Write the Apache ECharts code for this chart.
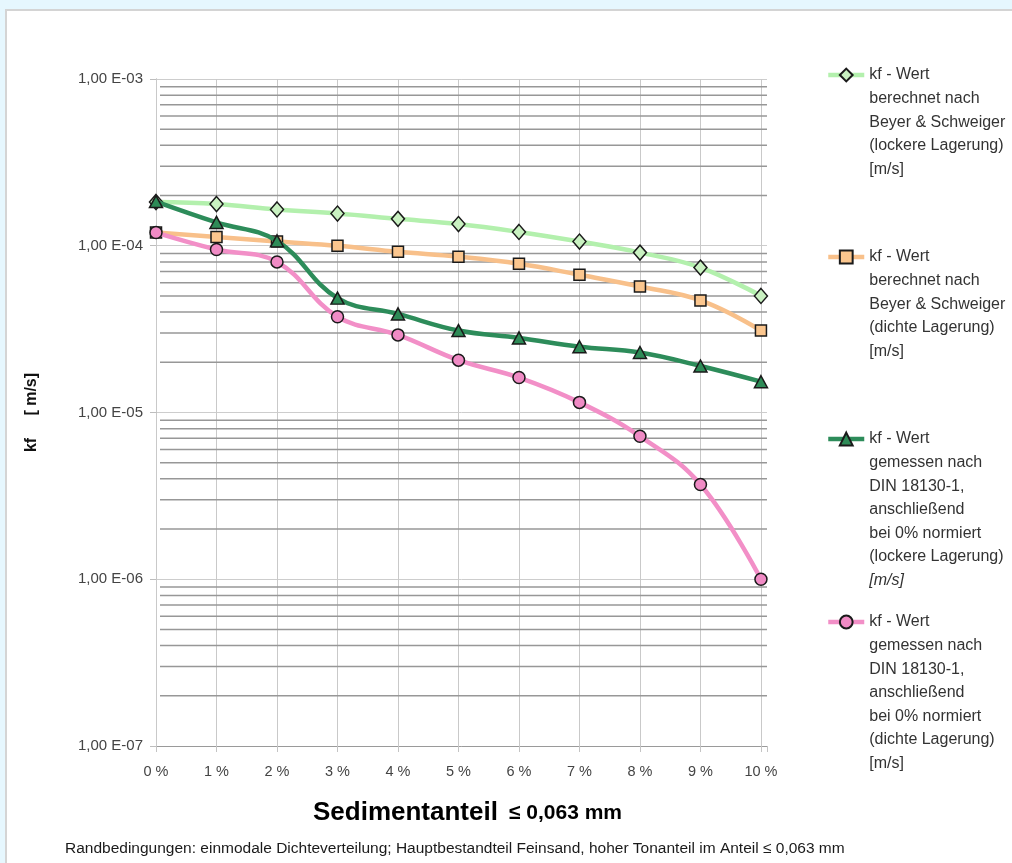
<!DOCTYPE html>
<html>
<head>
<meta charset="utf-8">
<script src="https://cdn.jsdelivr.net/npm/echarts@6/dist/echarts.min.js"></script>
<style>
  html, body { margin: 0; padding: 0; width: 1012px; height: 863px; overflow: hidden; background: #e6f7fe; }
  #frame { position: absolute; left: 5px; top: 9px; right: -4px; bottom: -4px; background: #ffffff; border: 2px solid #d4d4d4; }
  #chart { position: absolute; left: 0; top: 0; width: 1012px; height: 863px; }
</style>
</head>
<body>
<div id="frame"></div>
<div id="chart"></div>
<script>
// Fine fraction (<= 0,063 mm) in percent
const percents = [0, 1, 2, 3, 4, 5, 6, 7, 8, 9, 10];

// kf values [m/s]
const kfBerechnetLocker = [1.83e-4, 1.78e-4, 1.65e-4, 1.56e-4, 1.45e-4, 1.35e-4, 1.21e-4, 1.06e-4, 9.1e-5, 7.4e-5, 5.0e-5];
const kfBerechnetDicht  = [1.2e-4, 1.13e-4, 1.06e-4, 1.0e-4, 9.2e-5, 8.6e-5, 7.8e-5, 6.7e-5, 5.7e-5, 4.7e-5, 3.1e-5];
const kfGemessenLocker  = [1.84e-4, 1.38e-4, 1.07e-4, 4.85e-5, 3.9e-5, 3.1e-5, 2.8e-5, 2.48e-5, 2.29e-5, 1.9e-5, 1.53e-5];
const kfGemessenDicht   = [1.2e-4, 9.5e-5, 8.0e-5, 3.75e-5, 2.92e-5, 2.06e-5, 1.62e-5, 1.15e-5, 7.2e-6, 3.7e-6, 1.0e-6];

// Axis ticks
const yTickValues = [1e-7, 1e-6, 1e-5, 1e-4, 1e-3];
const yTickLabels = ['1,00 E-07', '1,00 E-06', '1,00 E-05', '1,00 E-04', '1,00 E-03'];
const xTickLabels = ['0 %', '1 %', '2 %', '3 %', '4 %', '5 %', '6 %', '7 %', '8 %', '9 %', '10 %'];

// Legend texts
const legendLines = [
  ['kf - Wert', 'berechnet nach', 'Beyer & Schweiger', '(lockere Lagerung)', '[m/s]'],
  ['kf - Wert', 'berechnet nach', 'Beyer & Schweiger', '(dichte Lagerung)', '[m/s]'],
  ['kf - Wert', 'gemessen nach', 'DIN 18130-1,', 'anschließend', 'bei 0% normiert', '(lockere Lagerung)', '[m/s]'],
  ['kf - Wert', 'gemessen nach', 'DIN 18130-1,', 'anschließend', 'bei 0% normiert', '(dichte Lagerung)', '[m/s]']
];
const italicUnit = [false, false, true, false];

const xTitleMain = 'Sedimentanteil';
const xTitleUnit = '≤ 0,063 mm';
const yTitle = 'kf     [ m/s]';
const footnote = 'Randbedingungen: einmodale Dichteverteilung; Hauptbestandteil Feinsand, hoher Tonanteil im Anteil ≤ 0,063 mm';

// ---- styling ----
const FONT = 'Liberation Sans, Arial, sans-serif';
const styles = [
  { values: kfBerechnetLocker, symbol: 'diamond',  size: [13, 15], line: '#b3f0ad', fill: '#c9f1c1' },
  { values: kfBerechnetDicht,  symbol: 'rect',     size: 11,       line: '#f8c08a', fill: '#fbc68e' },
  { values: kfGemessenLocker,  symbol: 'triangle', size: [13, 12], line: '#2d8c5a', fill: '#2e8b57' },
  { values: kfGemessenDicht,   symbol: 'circle',   size: 12,       line: '#f28fc7', fill: '#f08bc5' }
];
const seriesNames = legendLines.map(l => l.join('\n'));

// minor horizontal grid lines (2..9 within each decade)
const minorY = [];
for (let e = -7; e < -3; e++) {
  for (let m = 2; m <= 9; m++) minorY.push(m * Math.pow(10, e));
}

const series = styles.map((s, i) => ({
  name: seriesNames[i],
  type: 'line',
  data: percents.map((p, k) => [p, s.values[k]]),
  smooth: 0.4,
  symbol: s.symbol,
  symbolSize: s.size,
  showAllSymbol: true,
  lineStyle: { color: s.line, width: 4.5 },
  itemStyle: { color: s.fill, borderColor: '#1a1a1a', borderWidth: 1.5 },
  emphasis: { disabled: true },
  z: 3 + i
}));

// vertical grid lines at every percent step
series[0].markLine = {
  silent: true, symbol: 'none', z: 1, animation: false,
  label: { show: false },
  emphasis: { disabled: true },
  lineStyle: { color: '#c9c9c9', width: 1, type: 'solid' },
  data: percents.map(p => ({ xAxis: p }))
};

// minor horizontal grid lines, placed through the log axis
series.unshift({
  type: 'custom',
  name: 'minorGrid',
  silent: true,
  z: 1,
  data: minorY.map(v => [0, v]),
  renderItem: function (params, api) {
    const y = api.coord([0, api.value(1)])[1];
    const cs = params.coordSys;
    return {
      type: 'line',
      silent: true,
      shape: { x1: cs.x + 4, y1: y, x2: cs.x + cs.width, y2: y },
      style: { stroke: '#979797', lineWidth: 1.5 }
    };
  }
});

const LH = 23.6;
const iconCenters = [75, 257, 439, 622];
const legends = legendLines.map((lines, i) => {
  const n = lines.length;
  return {
    data: [seriesNames[i]],
    left: 826,
    top: iconCenters[i] - (2 * n - 1) * LH / 2,
    orient: 'vertical',
    padding: 0,
    itemWidth: 36,
    itemHeight: 16,
    selectedMode: false,
    lineStyle: { width: 4.5 },
    formatter: function () {
      if (!italicUnit[i]) return lines.join('\n');
      return lines.slice(0, n - 1).join('\n') + '\n{i|' + lines[n - 1] + '}';
    },
    textStyle: {
      fontFamily: FONT, fontSize: 16, color: '#333333', lineHeight: LH,
      padding: [(n - 1) * LH, 0, 0, 0],
      rich: { i: { fontFamily: FONT, fontSize: 16, fontStyle: 'italic', color: '#333333', lineHeight: LH } }
    }
  };
});

const chart = echarts.init(document.getElementById('chart'), null, { renderer: 'canvas' });
chart.setOption({
  animation: false,
  backgroundColor: 'transparent',
  grid: { left: 156, top: 79, right: 245, bottom: 117, containLabel: false },
  xAxis: {
    type: 'value', min: 0, max: 10.1, interval: 1,
    axisLine: { show: true, lineStyle: { color: '#9a9a9a', width: 1 } },
    axisTick: { show: true, length: 6, lineStyle: { color: '#c4c4c4' } },
    splitLine: { show: false },
    axisLabel: {
      margin: 18, fontFamily: FONT, fontSize: 14.5, color: '#444444',
      formatter: v => (Number.isInteger(v) && v >= 0 && v <= 10) ? xTickLabels[v] : ''
    }
  },
  yAxis: {
    type: 'log', logBase: 10, min: 1e-7, max: 1e-3, splitNumber: 4,
    axisLine: { show: true, lineStyle: { color: '#9a9a9a', width: 1 } },
    axisTick: { show: true, length: 6, lineStyle: { color: '#bdbdbd' } },
    splitLine: { show: true, lineStyle: { color: '#cdcdcd', width: 1 } },
    axisLabel: {
      margin: 13, fontFamily: FONT, fontSize: 15, color: '#444444',
      formatter: v => {
        const k = yTickValues.findIndex(t => Math.abs(Math.log10(t) - Math.log10(v)) < 1e-6);
        return k >= 0 ? yTickLabels[k] : '';
      }
    },
    name: yTitle, nameLocation: 'middle', nameGap: 116, nameRotate: 90,
    nameTextStyle: { fontFamily: FONT, fontSize: 16, fontWeight: 'bold', color: '#111111' }
  },
  legend: legends,
  series: series,
  graphic: [
    {
      type: 'text', left: 313, top: 800, silent: true,
      style: {
        text: '{a|' + xTitleMain + '}{b|' + xTitleUnit + '}',
        rich: {
          a: { fontFamily: FONT, fontSize: 26, fontWeight: 'bold', fill: '#000000' },
          b: { fontFamily: FONT, fontSize: 21, fontWeight: 'bold', fill: '#000000', padding: [0, 0, 0, 11] }
        }
      }
    },
    {
      type: 'text', left: 65, top: 841, silent: true,
      style: { text: footnote, fontFamily: FONT, fontSize: 15.5, fill: '#1a1a1a' }
    }
  ]
});
</script>
</body>
</html>
